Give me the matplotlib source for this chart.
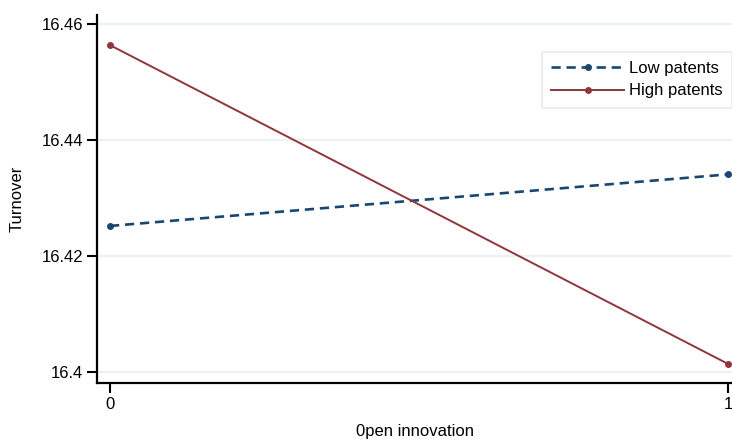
import numpy as np
import matplotlib.pyplot as plt
import matplotlib as mpl

mpl.rcParams['font.family'] = ['Liberation Sans', 'DejaVu Sans']

x_vals = [0, 1]
low_patents = [16.4252, 16.4341]
high_patents = [16.4564, 16.4014]
yticks = [16.40, 16.42, 16.44, 16.46]
ytick_labels = ['16.4', '16.42', '16.44', '16.46']

navy = '#1a476f'
maroon = '#90353b'
gridc = '#eaf2f3'

fig = plt.figure(figsize=(7.32, 4.43), dpi=100)
ax = fig.add_axes([97/732, 60/443, 635/732, 368/443])

ax.plot(x_vals, low_patents, color=navy, linestyle=(0, (3.5, 2.2)), linewidth=1.9,
        marker='o', markersize=4, label='Low patents')
ax.plot(x_vals, high_patents, color=maroon, linestyle='-', linewidth=1.4,
        marker='o', markersize=4, label='High patents')

ax.set_xlim(-0.021, 1.0065)
ax.set_ylim(16.3981, 16.4616)
ax.set_xticks([0, 1])
ax.set_xticklabels(['0', '1'])
ax.set_yticks(yticks)
ax.set_yticklabels(ytick_labels)
for y in yticks:
    ax.axhline(y, color=gridc, linewidth=1.5, zorder=0)

for s in ['top', 'right']:
    ax.spines[s].set_visible(False)
ax.spines['left'].set_linewidth(1.6)
ax.spines['bottom'].set_linewidth(1.6)
ax.tick_params(axis='both', direction='out', length=7, width=1.5, labelsize=12, pad=3)

ax.set_ylabel('Turnover', fontsize=12, labelpad=12)
ax.set_xlabel('0pen innovation', fontsize=12, labelpad=9)

leg = ax.legend(loc='upper right', bbox_to_anchor=(1.0, 0.9), fontsize=12,
                frameon=True, fancybox=False, handlelength=4.4, handletextpad=0.3,
                borderpad=0.55, labelspacing=0.45, borderaxespad=0)
leg.get_frame().set_edgecolor('#dfe8ea')
leg.get_frame().set_linewidth(1.2)

plt.savefig('out.png', dpi=100)
